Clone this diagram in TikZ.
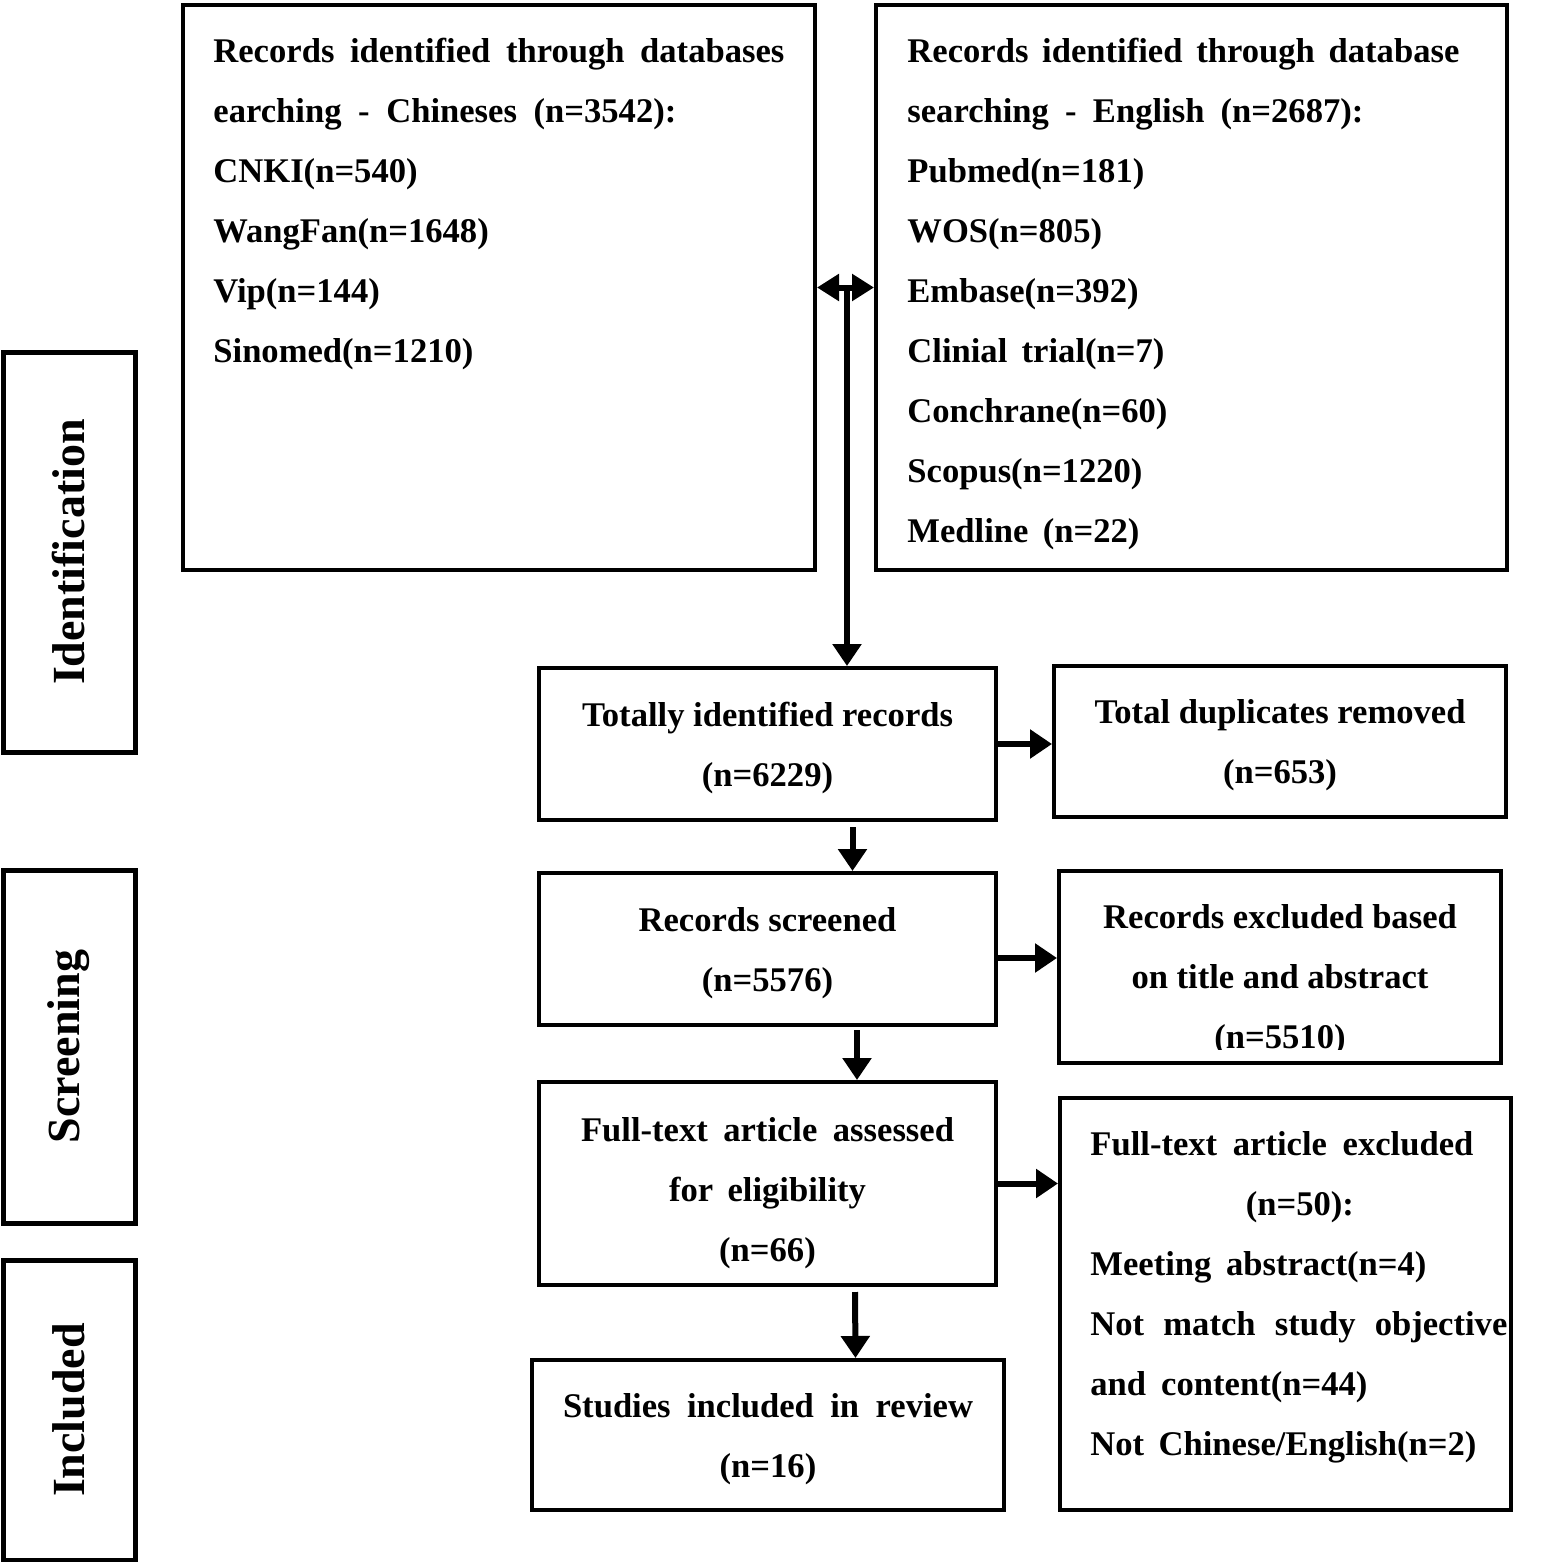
\documentclass[tikz,border=0pt]{standalone}
\usepackage{fontspec}
\setmainfont{Liberation Serif}
\usetikzlibrary{arrows.meta}
\newcommand\sline[2]{\makebox[#1][s]{\spaceskip=0pt\xspaceskip=0pt #2}}
\begin{document}
\begin{tikzpicture}[x=0.5pt,y=-0.5pt,
 box/.style={draw,line width=2pt,inner sep=0pt,align=center,font=\bfseries\fontsize{17.3}{30}\selectfont},
 side/.style={draw,line width=2.5pt,rotate=90,inner sep=0pt,font=\bfseries\fontsize{23}{28}\selectfont},
 txt/.style={inner sep=0pt,align=left,font=\bfseries\fontsize{17.3}{30}\selectfont},
 arr/.style={line width=3pt,-{Triangle[length=11pt,width=14pt]}},
 darr/.style={line width=3pt,{Triangle[length=11pt,width=13pt]}-{Triangle[length=11pt,width=13pt]}}]
\useasboundingbox (0,0) rectangle (1542,1562);

% top boxes
\node[box,minimum width=316pt,minimum height=282.5pt] (A) at (499,287.5) {};
\node[box,minimum width=315.5pt,minimum height=282.5pt] (B) at (1191.5,287.5) {};
\node[txt,text width=285.5pt,anchor=base west] (At) at (213,63) {%
\sline{285.5pt}{Records identified through databases}\\
\sline{231.5pt}{earching - Chineses (n=3542):}\\
CNKI(n=540)\\
WangFan(n=1648)\\
Vip(n=144)\\
Sinomed(n=1210)};
\node[txt,text width=285pt,anchor=base west] (Bt) at (907,63) {%
\sline{276pt}{Records identified through database}\\
\sline{228pt}{searching - English (n=2687):}\\
Pubmed(n=181)\\
WOS(n=805)\\
Embase(n=392)\\
\sline{128.5pt}{Clinial trial(n=7)}\\
Conchrane(n=60)\\
Scopus(n=1220)\\
\sline{116pt}{Medline (n=22)}};

% side labels
\node[side,minimum width=200pt,minimum height=66pt] (id) at (69,552) {Identification};
\node[side,minimum width=176.5pt,minimum height=66pt] (sc) at (69,1046.5) {Screening};
\node[side,minimum width=150pt,minimum height=66pt] (inc) at (69,1410) {Included};

% flow boxes
\node[box,minimum width=228.5pt,minimum height=76pt] (T) at (767.5,744) {};
\node[txt,align=center] (Tt) at (767.5,748) {Totally identified records\\(n=6229)};
\node[box,minimum width=226pt,minimum height=75.5pt] (D) at (1280,741.5) {};
\node[txt,align=center] (Dt) at (1280,745) {Total duplicates removed\\(n=653)};
\node[box,minimum width=228.5pt,minimum height=76pt] (S) at (767.5,949) {};
\node[txt,align=center] (Stt) at (767.5,953) {Records screened\\(n=5576)};
\node[box,minimum width=221pt,minimum height=96pt] (E) at (1280,967) {};
\begin{scope}
\clip (1061,873) rectangle (1499,1049);
\node[txt,align=center] (Et) at (1280,980) {Records excluded based\\on title and abstract\\(n=5510)};
\end{scope}
\node[box,minimum width=228.5pt,minimum height=101.5pt] (F) at (767.5,1183.5) {};
\node[txt,align=center] (Ft) at (767.5,1193) {\sline{186.5pt}{Full-text article assessed}\\\sline{98.5pt}{for eligibility}\\(n=66)};
\node[box,minimum width=236pt,minimum height=75pt] (St) at (768,1435) {};
\node[txt,align=center] (Sit) at (768,1439) {\sline{205pt}{Studies included in review}\\(n=16)};
\node[box,minimum width=225.5pt,minimum height=206pt] (X) at (1285.5,1304) {};
\node[txt,text width=209.5pt,anchor=base west] (Xt) at (1090,1155) {%
\sline{191.5pt}{Full-text article excluded}\\
\makebox[\linewidth]{(n=50):}\\
\sline{168pt}{Meeting abstract(n=4)}\\
\sline{208.5pt}{Not match study objective}\\
\sline{138.5pt}{and content(n=44)}\\
\sline{193pt}{Not Chinese/English(n=2)}};

% connectors
\coordinate (J) at (847,287.5);
\draw[darr] (A.east) -- (B.west);
\draw[arr] (J) -- (J |- T.north);
\draw[arr] (T.east) -- (T.east -| D.west);
\draw[arr] ([xshift=42.5pt,yshift=-2.5pt]T.south) -- ([xshift=42.5pt]S.north);
\draw[arr] (S.east |- 0,958) -- (E.west |- 0,958);
\draw[arr] ([xshift=44.75pt,yshift=-1.5pt]S.south) -- ([xshift=44.75pt]F.north);
\draw[arr] (F.east) -- (F.east -| X.west);
\draw[arr] ([xshift=43.75pt,yshift=-2.5pt]F.south) -- ([xshift=43.75pt]St.north);
\end{tikzpicture}
\end{document}
